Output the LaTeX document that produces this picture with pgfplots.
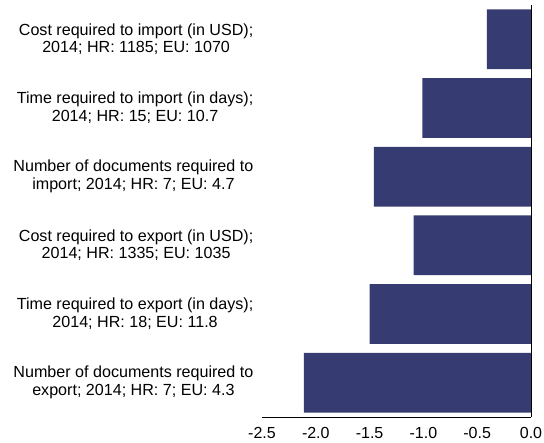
\documentclass[border=0pt]{standalone}
\usepackage{pgfplots}
\pgfplotsset{compat=1.18}
\usepackage{fontspec}
\setmainfont{Liberation Sans}
\definecolor{barblue}{RGB}{54,60,114}
\begin{document}
\begin{tikzpicture}
\begin{axis}[
  scale only axis,
  width=269pt, height=412pt,
  xmin=-2.5, xmax=0, ymin=-0.5, ymax=5.5,
  y dir=reverse,
  xbar, bar width=0.87, bar shift=0pt,
  axis x line=bottom,
  axis y line=left,
  y axis line style={draw=none},
  axis line style={-, thin},
  xtick={-2.5,-2,-1.5,-1,-0.5,0},
  xtick style={draw=none},
  ytick style={draw=none},
  /pgf/number format/assume math mode=true,
  xticklabel={\pgfmathprintnumber[fixed,fixed zerofill,precision=1]{\tick}},
  xticklabel style={font=\fontsize{16}{18}\selectfont, yshift=-5pt},
  ytick={0,1,2,3,4,5},
  yticklabels={
    {Cost required to import (in USD);\\2014; HR: 1185; EU: 1070},
    {Time required to import (in days);\\2014; HR: 15; EU: 10.7},
    {Number of documents required to\\import; 2014; HR: 7; EU: 4.7},
    {Cost required to export (in USD);\\2014; HR: 1335; EU: 1035},
    {Time required to export (in days);\\2014; HR: 18; EU: 11.8},
    {Number of documents required to\\export; 2014; HR: 7; EU: 4.3}
  },
  yticklabel style={align=center, font=\fontsize{16.1}{17.7}\selectfont, xshift=-3pt},
  extra x ticks={0},
  extra x tick labels={},
  extra x tick style={grid=major, major grid style={black, thin}},
]
\addplot[fill=barblue, draw=none] coordinates {
  (-0.41,0) (-1.01,1) (-1.46,2) (-1.09,3) (-1.50,4) (-2.11,5)
};
\end{axis}
\pgfresetboundingbox
\path (-262pt,-26pt) rectangle (282pt,417pt);
\end{tikzpicture}
\end{document}
